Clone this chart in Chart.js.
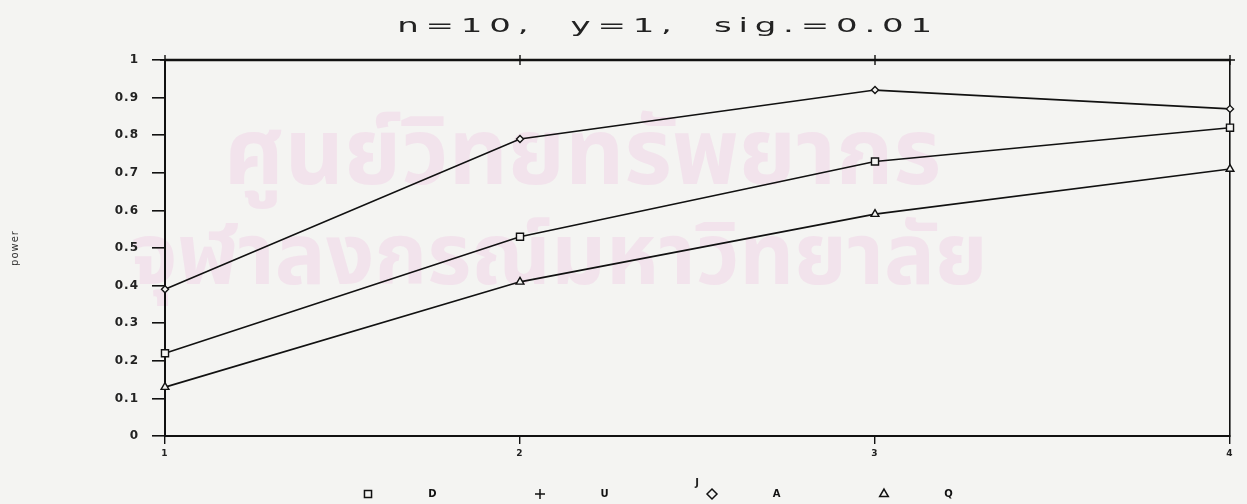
<!DOCTYPE html>
<html>
<head>
<meta charset="utf-8">
<script src="https://cdn.jsdelivr.net/npm/chart.js@4.4.1/dist/chart.umd.min.js"></script>
<style>
    html, body { margin: 0; padding: 0; background: #f4f4f2; }
    #wrap { position: relative; width: 1247px; height: 504px; overflow: hidden; }
    .wm {
        position: absolute;
        color: #f2e3ec;
        font-family: "Noto Sans Thai", "Loma", "Garuda", "Norasi", "Tlwg Typo", "Noto Sans", sans-serif;
        white-space: nowrap;
        line-height: 1;
        font-weight: bold;
    }
    #wm1 { left: 224px; top: 110px; font-size: 92px; }
    #wm2 { left: 130px; top: 216px; font-size: 85px; }
    canvas { position: absolute; left: 0; top: 0; }
</style>
</head>
<body>
<div id="wrap">
    <div class="wm" id="wm1">ศูนย์วิทยทรัพยากร</div>
    <div class="wm" id="wm2">จุฬาลงกรณ์มหาวิทยาลัย</div>
    <canvas id="powerChart" width="1247" height="504"></canvas>
</div>
<script>
const chartTitle = 'n=10,  y=1,  sig.=0.01';
const xValues = [1, 2, 3, 4];
const yTicks = [0, 0.1, 0.2, 0.3, 0.4, 0.5, 0.6, 0.7, 0.8, 0.9, 1];
const seriesLabels = ['D', 'U', 'A', 'Q'];
const squareD = [0.22, 0.53, 0.73, 0.82];
const plusU = [1, 1, 1, 1];
const diamondA = [0.39, 0.79, 0.92, 0.87];
const triangleQ = [0.13, 0.41, 0.59, 0.71];

document.addEventListener('DOMContentLoaded', function () {
    const ink = '#111';

    function toPoints(values) {
        return values.map((v, i) => ({ x: xValues[i], y: v }));
    }

    function makeSeries(label, values, style, radius) {
        return {
            label: label,
            data: toPoints(values),
            borderColor: ink,
            backgroundColor: '#f4f4f2',
            borderWidth: 1.6,
            pointStyle: style,
            pointRadius: radius,
            pointBorderWidth: 1.4,
            pointBorderColor: ink,
            pointBackgroundColor: '#f4f4f2',
            tension: 0,
            clip: false
        };
    }

    // title, legend and letter spacing drawn by hand
    const paperPlugin = {
        id: 'paper',
        beforeDraw(chart) {
            chart.ctx.letterSpacing = '1px';
        },
        afterDraw(chart) {
            const ctx = chart.ctx;
            ctx.save();
            ctx.letterSpacing = '4px';
            ctx.fillStyle = '#222';
            ctx.font = '20px "DejaVu Sans"';
            ctx.textAlign = 'center';
            ctx.textBaseline = 'middle';
            ctx.translate(668, 27);
            ctx.scale(1.7, 1);
            ctx.fillText(chartTitle, 0, 0);
            ctx.restore();

            ctx.save();
            ctx.letterSpacing = '1px';
            ctx.font = 'bold 10px "DejaVu Sans"';
            ctx.textBaseline = 'middle';
            ctx.textAlign = 'center';
            ctx.strokeStyle = ink;
            ctx.fillStyle = '#f4f4f2';
            const startX = 368;
            const step = 172;
            const y = 494;
            chart.data.datasets.forEach((ds, i) => {
                const mx = startX + i * step;
                ctx.lineWidth = 1.5;
                Chart.helpers.drawPoint(ctx, {
                    pointStyle: ds.pointStyle,
                    radius: 5,
                    rotation: 0,
                    borderWidth: 1.5
                }, mx, y);
                ctx.fillStyle = ink;
                ctx.fillText(ds.label, mx + 65, y);
                ctx.fillStyle = '#f4f4f2';
            });
            ctx.restore();
        }
    };

    const ctx = document.getElementById('powerChart').getContext('2d');
    window.powerChartInstance = new Chart(ctx, {
        type: 'line',
        data: {
            datasets: [
                makeSeries(seriesLabels[0], squareD, 'rect', 5),
                Object.assign(makeSeries(seriesLabels[1], plusU, 'cross', 5), { borderWidth: 2.4 }),
                makeSeries(seriesLabels[2], diamondA, 'rectRot', 3.5),
                makeSeries(seriesLabels[3], triangleQ, 'triangle', 4.5)
            ]
        },
        options: {
            responsive: false,
            animation: false,
            events: [],
            layout: { padding: { left: 4, right: 0, top: 60, bottom: 0 } },
            plugins: {
                legend: { display: false },
                title: { display: false },
                tooltip: { enabled: false }
            },
            scales: {
                x: {
                    type: 'linear',
                    min: xValues[0],
                    max: xValues[xValues.length - 1],
                    afterBuildTicks: s => { s.ticks = xValues.map(v => ({ value: v })); },
                    afterFit: s => { s.height = 68; },
                    grid: { drawOnChartArea: false, drawTicks: true, tickLength: 8, color: ink, lineWidth: 1.4 },
                    border: { display: true, color: ink, width: 2 },
                    ticks: {
                        color: '#222',
                        padding: 4,
                        maxRotation: 0,
                        font: { family: 'DejaVu Sans', size: 9, weight: 'bold' },
                        callback: v => String(v)
                    },
                    title: {
                        display: true,
                        text: 'J',
                        color: '#222',
                        padding: { top: 0, bottom: 15 },
                        font: { family: 'DejaVu Sans', size: 10, weight: 'bold' }
                    }
                },
                y: {
                    type: 'linear',
                    min: 0,
                    max: 1,
                    afterBuildTicks: s => { s.ticks = yTicks.map(v => ({ value: v })); },
                    afterFit: s => { s.width = 161; },
                    grid: { drawOnChartArea: false, drawTicks: true, tickLength: 13, color: ink, lineWidth: 1.6 },
                    border: { display: true, color: ink, width: 2 },
                    ticks: {
                        color: '#222',
                        padding: 13,
                        font: { family: 'DejaVu Sans', size: 12, weight: 'bold' },
                        callback: v => (v === 0 || v === 1) ? String(v) : v.toFixed(1)
                    },
                    title: {
                        display: true,
                        text: 'power',
                        color: '#333',
                        padding: { top: 5, bottom: 0 },
                        font: { family: 'DejaVu Sans', size: 10 }
                    }
                },
                yRight: {
                    type: 'linear',
                    position: 'right',
                    min: 0,
                    max: 1,
                    afterFit: s => { s.width = 17; },
                    grid: { drawOnChartArea: false, drawTicks: false },
                    border: { display: true, color: ink, width: 1.6 },
                    ticks: { display: false }
                }
            }
        },
        plugins: [paperPlugin]
    });
});
</script>
</body>
</html>
